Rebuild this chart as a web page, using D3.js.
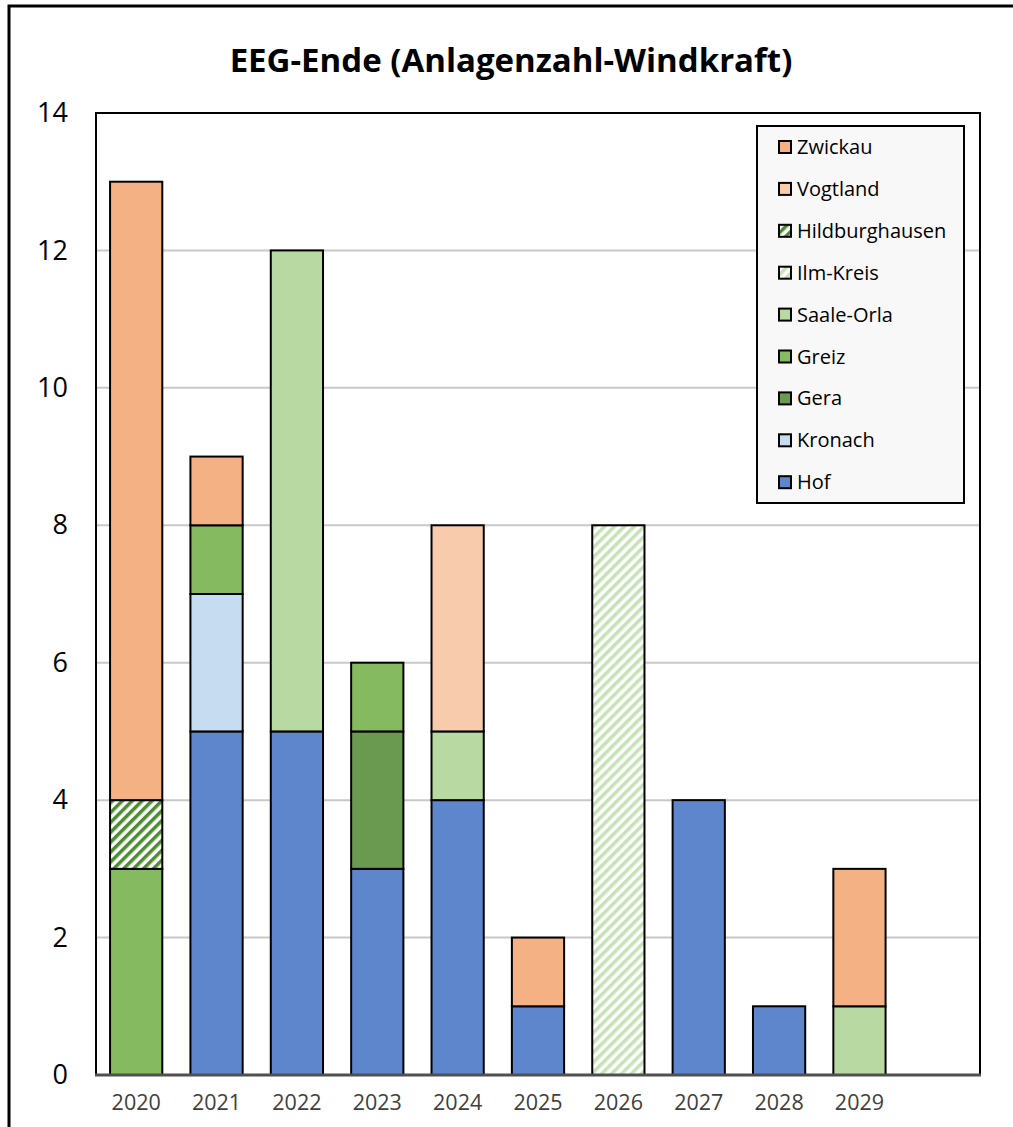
<!DOCTYPE html>
<html>
<head>
<meta charset="utf-8">
<script src="https://cdn.jsdelivr.net/npm/d3@7"></script>
<style>
  body { margin: 0; background: #fff; }
  svg text { font-family: "Open Sans", sans-serif; }
</style>
</head>
<body>
<svg id="chart" width="1013" height="1127"></svg>
<script>
// Data
const years = ['2020', '2021', '2022', '2023', '2024', '2025', '2026', '2027', '2028', '2029', ''];
const series = ['Hof', 'Kronach', 'Gera', 'Greiz', 'Saale-Orla', 'Ilm-Kreis', 'Hildburghausen', 'Vogtland', 'Zwickau'];
const hof            = [0, 5, 5, 3, 4, 1, 0, 4, 1, 0, 0];
const kronach        = [0, 2, 0, 0, 0, 0, 0, 0, 0, 0, 0];
const gera           = [0, 0, 0, 2, 0, 0, 0, 0, 0, 0, 0];
const greiz          = [3, 1, 0, 1, 0, 0, 0, 0, 0, 0, 0];
const saaleOrla      = [0, 0, 7, 0, 1, 0, 0, 0, 0, 1, 0];
const ilmKreis       = [0, 0, 0, 0, 0, 0, 8, 0, 0, 0, 0];
const hildburghausen = [1, 0, 0, 0, 0, 0, 0, 0, 0, 0, 0];
const vogtland       = [0, 0, 0, 0, 3, 0, 0, 0, 0, 0, 0];
const zwickau        = [9, 1, 0, 0, 0, 1, 0, 0, 0, 2, 0];
const yTicks = [0, 2, 4, 6, 8, 10, 12, 14];

const values = [hof, kronach, gera, greiz, saaleOrla, ilmKreis, hildburghausen, vogtland, zwickau];
const fills = {
    'Hof': '#5E86CC',
    'Kronach': '#C5DCF1',
    'Gera': '#6A9A50',
    'Greiz': '#86BA60',
    'Saale-Orla': '#B8D9A2',
    'Ilm-Kreis': 'url(#hatchLight)',
    'Hildburghausen': 'url(#hatchDark)',
    'Vogtland': '#F8CBAD',
    'Zwickau': '#F4B183'
};

const svg = d3.select('#chart');
const plot = { left: 96, top: 113, right: 980, bottom: 1075 };

// Hatch patterns
const defs = svg.append('defs');
function hatch(id, color) {
    const p = defs.append('pattern')
        .attr('id', id)
        .attr('patternUnits', 'userSpaceOnUse')
        .attr('width', 7).attr('height', 7)
        .attr('patternTransform', 'rotate(45)');
    p.append('rect').attr('width', 7).attr('height', 7).attr('fill', '#fff');
    p.append('rect').attr('width', 3.5).attr('height', 7).attr('fill', color);
}
hatch('hatchDark', '#4E8C32');
hatch('hatchLight', '#C6E2B6');

// Outer frame
svg.append('rect')
    .attr('x', 9).attr('y', 6)
    .attr('width', 1100).attr('height', 1200)
    .attr('fill', '#fff')
    .attr('stroke', '#000').attr('stroke-width', 3);

// Title
svg.append('text')
    .attr('x', 511).attr('y', 72)
    .attr('text-anchor', 'middle')
    .attr('font-size', 33).attr('font-weight', 'bold')
    .attr('fill', '#000')
    .text('EEG-Ende (Anlagenzahl-Windkraft)');

// Scales
const x = d3.scaleBand()
    .domain(d3.range(years.length))
    .range([plot.left, plot.right])
    .paddingInner(0.35)
    .paddingOuter(0.175);

const y = d3.scaleLinear()
    .domain([0, 14])
    .range([plot.bottom, plot.top]);

// Plot background + gridlines
svg.append('rect')
    .attr('x', plot.left).attr('y', plot.top)
    .attr('width', plot.right - plot.left).attr('height', plot.bottom - plot.top)
    .attr('fill', '#fff');

svg.append('g')
    .selectAll('line')
    .data(yTicks.filter(t => t > 0 && t < 14))
    .join('line')
    .attr('x1', plot.left).attr('x2', plot.right)
    .attr('y1', d => y(d)).attr('y2', d => y(d))
    .attr('stroke', '#C8C8C8').attr('stroke-width', 2);

// Stacked bars
const rows = years.map((yr, i) => {
    const r = { idx: i };
    series.forEach((s, k) => r[s] = values[k][i]);
    return r;
});
const stacked = d3.stack().keys(series)(rows);

svg.append('g')
    .selectAll('g')
    .data(stacked)
    .join('g')
    .attr('fill', d => fills[d.key])
    .selectAll('rect')
    .data(d => d.filter(v => v[1] - v[0] > 0))
    .join('rect')
    .attr('x', d => x(d.data.idx))
    .attr('width', x.bandwidth())
    .attr('y', d => y(d[1]))
    .attr('height', d => y(d[0]) - y(d[1]))
    .attr('stroke', '#000').attr('stroke-width', 2);

// Plot border
svg.append('path')
    .attr('d', `M${plot.left},${plot.bottom}V${plot.top}H${plot.right}V${plot.bottom}`)
    .attr('fill', 'none').attr('stroke', '#000').attr('stroke-width', 2);
svg.append('line')
    .attr('x1', plot.left - 1).attr('x2', plot.right + 1)
    .attr('y1', plot.bottom).attr('y2', plot.bottom)
    .attr('stroke', '#505050').attr('stroke-width', 3);

// Y axis labels
const yAxis = svg.append('g')
    .attr('transform', `translate(${plot.left - 28},0)`)
    .call(d3.axisLeft(y).tickValues(yTicks).tickSize(0).tickPadding(0));
yAxis.select('.domain').remove();
yAxis.selectAll('text')
    .attr('font-size', 27)
    .attr('font-family', '"Open Sans", sans-serif')
    .attr('fill', '#000');

// X axis labels
const xAxis = svg.append('g')
    .attr('transform', `translate(0,${plot.bottom})`)
    .call(d3.axisBottom(x).tickFormat(i => years[i]).tickSize(0).tickPadding(20));
xAxis.select('.domain').remove();
xAxis.selectAll('text')
    .attr('font-size', 21.5)
    .attr('font-family', '"Open Sans", sans-serif')
    .attr('fill', '#404040');

// Legend
const legend = svg.append('g').attr('transform', 'translate(757,126)');
legend.append('rect')
    .attr('width', 207).attr('height', 377)
    .attr('fill', '#F8F8F8')
    .attr('stroke', '#000').attr('stroke-width', 2);

const legendItems = legend.selectAll('g.item')
    .data(series.slice().reverse())
    .join('g')
    .attr('class', 'item')
    .attr('transform', (d, i) => `translate(22,${21 + i * 41.9})`);
legendItems.append('rect')
    .attr('x', 0).attr('y', -6)
    .attr('width', 12).attr('height', 12)
    .attr('fill', d => fills[d])
    .attr('stroke', '#000').attr('stroke-width', 2);
legendItems.append('text')
    .attr('x', 18).attr('y', 0)
    .attr('dy', '0.35em')
    .attr('font-size', 20)
    .attr('fill', '#000')
    .text(d => d);
</script>
</body>
</html>
